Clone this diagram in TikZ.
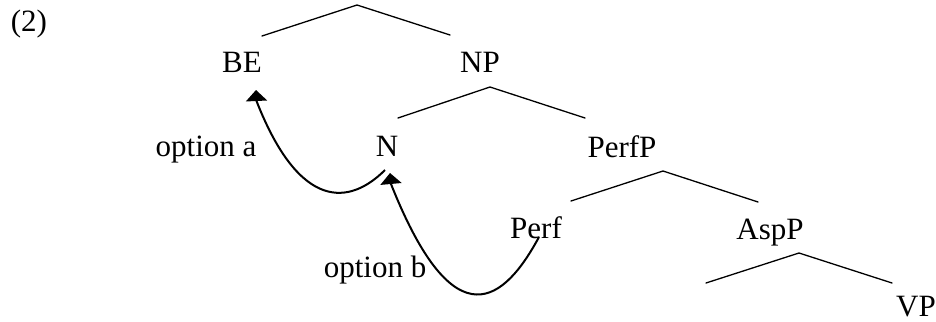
\documentclass[tikz,border=0pt]{standalone}
\usepackage{fontspec}
\setmainfont{Liberation Serif}
\usetikzlibrary{arrows.meta}
\begin{document}
\begin{tikzpicture}[x=1pt,y=-1pt,
  lbl/.style={inner sep=0pt,anchor=base,font=\fontsize{31}{37}\selectfont},
  branch/.style={line width=1.3pt,line cap=round},
  movearrow/.style={line width=2pt,-{Triangle[width=21pt,length=11pt]}}]
\useasboundingbox (0,0) rectangle (936,321);

% example number
\node[lbl] (num) at (29,32) {(2)};

% category labels
\node[lbl] (BE)    at (242,73)  {BE};
\node[lbl] (NP)    at (480,73)  {NP};
\node[lbl] (N)     at (387,156) {N};
\node[lbl] (PerfP) at (622,157) {PerfP};
\node[lbl] (Perf)  at (536,238) {Perf};
\node[lbl] (AspP)  at (770,239) {AspP};
\node[lbl] (VP)    at (916,316) {VP};

% movement labels
\node[lbl] (opta) at (206,156) {option a};
\node[lbl] (optb) at (375,277) {option b};

% branch end points
\coordinate (rootL) at (262,36);  \coordinate (rootT) at (357,5);   \coordinate (rootR) at (450,35);
\coordinate (npL)   at (398,118); \coordinate (npT)   at (490,87);  \coordinate (npR)   at (585,118);
\coordinate (pfL)   at (571,201); \coordinate (pfT)   at (663,171); \coordinate (pfR)   at (758,202);
\coordinate (asL)   at (706,283); \coordinate (asT)   at (799,253); \coordinate (asR)   at (892,283);

\draw[branch] (rootL) -- (rootT) -- (rootR);
\draw[branch] (npL) -- (npT) -- (npR);
\draw[branch] (pfL) -- (pfT) -- (pfR);
\draw[branch] (asL) -- (asT) -- (asR);

% head movement paths; each ends in a short upright piece so the head sits level
\coordinate (Nfoot)   at ([shift={(-2,14)}]N.base);
\coordinate (Nbase)   at ([shift={(4,28)}]N.base);
\coordinate (Ntip)    at ([shift={(3,17)}]N.base);
\coordinate (BEbase)  at ([shift={(14.5,28)}]BE.base);
\coordinate (BEtip)   at ([shift={(14,17)}]BE.base);
\coordinate (Perfsrc) at ([shift={(3,-1)}]Perf.base);

\draw[movearrow] (Nfoot) .. controls (350,205) and (300,212) .. (BEbase) -- (BEtip);
\draw[movearrow] (Perfsrc) .. controls (505,300) and (455,345) .. (Nbase) -- (Ntip);
\end{tikzpicture}
\end{document}
